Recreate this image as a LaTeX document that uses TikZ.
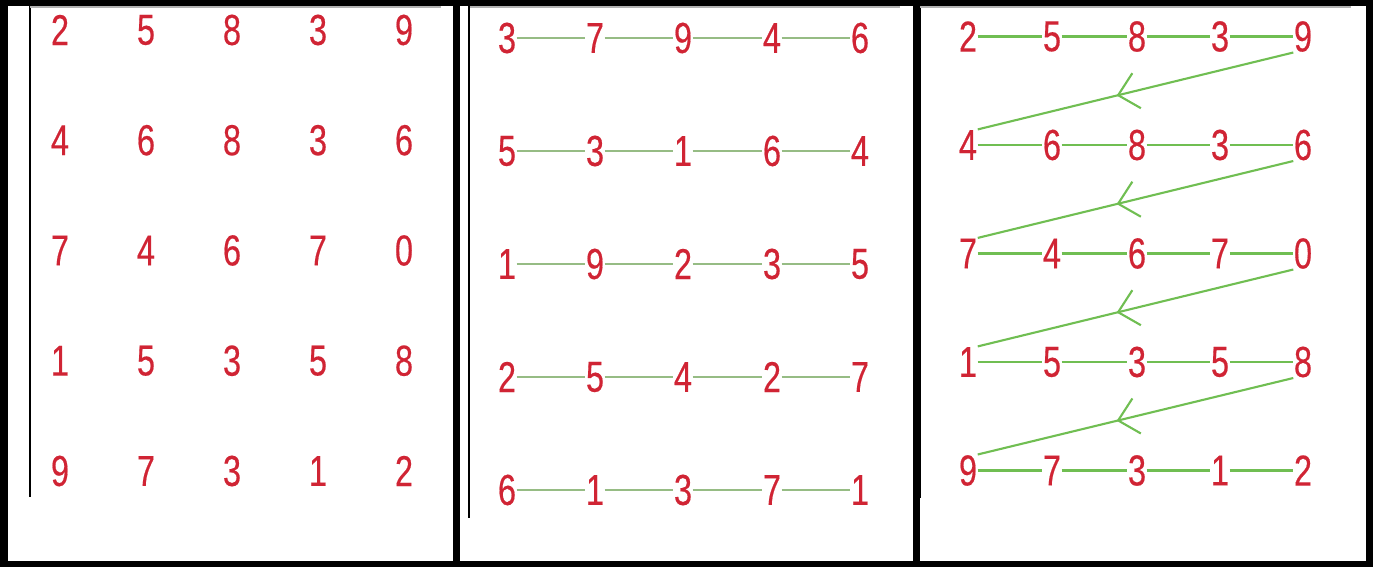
\documentclass[tikz,border=0pt]{standalone}
\usepackage{fontspec}
\newfontfamily\digitfont[FakeStretch=0.75, FakeBold=0.4]{Liberation Sans}
\usetikzlibrary{arrows.meta, decorations.markings}
\definecolor{digitred}{RGB}{208,36,52}
\definecolor{rowgreen}{RGB}{150,188,132}
\definecolor{zaggreen}{RGB}{112,190,82}

\begin{document}
\begin{tikzpicture}[x=0.01cm, y=-0.01cm,
  digit/.style={inner sep=0pt, text=digitred, font=\digitfont\fontsize{12.3}{12.3}\selectfont},
  rowlink/.style={draw=rowgreen, line width=0.6pt},
  ziglink/.style={draw=zaggreen, line width=0.6pt},
  zagarrow/.style={ziglink, postaction={decorate}, decoration={markings,
      mark=at position 0.56 with {\arrow{Straight Barb[length=1.9mm, width=3.6mm]}}}},
  frame/.style={draw=black, line width=0.07cm},
  edge/.style={draw=black, line width=0.45pt}
]
  \useasboundingbox (0,0) rectangle (1373,567);

  % Frames of the three panels
  \draw[frame] (4,3) rectangle (1369,564);
  \draw[frame] (456.5,3) -- (456.5,564);
  \draw[frame] (916,3) -- (916,564);

  % Edges of the pasted pictures
  \draw[edge] (30,6) -- (30,497);
  \draw[edge] (469,6) -- (469,518);
  \draw[edge] (920,6) -- (920,498);
  \draw[draw=gray!60, line width=0.4pt] (30,7) -- (441,7);
  \draw[draw=gray!60, line width=0.4pt] (470,7) -- (900,7);
  \draw[draw=gray!60, line width=0.4pt] (920,7) -- (1351,7);

  % Panel 1: the matrix
  \foreach \a/\b/\c/\d/\e [count=\r] in {2/5/8/3/9, 4/6/8/3/6, 7/4/6/7/0, 1/5/3/5/8, 9/7/3/1/2} {
    \pgfmathsetmacro{\y}{30+(\r-1)*110.25}
    \node[digit] (a\r-1) at (60,\y) {\a};
    \node[digit] (a\r-2) at (146,\y) {\b};
    \node[digit] (a\r-3) at (232,\y) {\c};
    \node[digit] (a\r-4) at (318,\y) {\d};
    \node[digit] (a\r-5) at (404,\y) {\e};
  }

  % Panel 2: rows as lists
  \foreach \a/\b/\c/\d/\e [count=\r] in {3/7/9/4/6, 5/3/1/6/4, 1/9/2/3/5, 2/5/4/2/7, 6/1/3/7/1} {
    \pgfmathsetmacro{\y}{38+(\r-1)*113}
    \node[digit] (b\r-1) at (507,\y) {\a};
    \node[digit] (b\r-2) at (595,\y) {\b};
    \node[digit] (b\r-3) at (683,\y) {\c};
    \node[digit] (b\r-4) at (772,\y) {\d};
    \node[digit] (b\r-5) at (860,\y) {\e};
  }

  % Panel 3: row by row
  \foreach \a/\b/\c/\d/\e [count=\r] in {2/5/8/3/9, 4/6/8/3/6, 7/4/6/7/0, 1/5/3/5/8, 9/7/3/1/2} {
    \pgfmathsetmacro{\y}{36.5+(\r-1)*108.5}
    \node[digit] (c\r-1) at (968,\y) {\a};
    \node[digit] (c\r-2) at (1052,\y) {\b};
    \node[digit] (c\r-3) at (1137,\y) {\c};
    \node[digit] (c\r-4) at (1220,\y) {\d};
    \node[digit] (c\r-5) at (1303,\y) {\e};
  }

  % Links along the rows
  \foreach \row in {1,...,5} {
    \foreach \col/\nxt in {1/2, 2/3, 3/4, 4/5} {
      \draw[rowlink] (b\row-\col) -- (b\row-\nxt);
      \draw[ziglink] (c\row-\col) -- (c\row-\nxt);
    }
  }

  % Links from row end to next row start
  \foreach \row/\nxt in {1/2, 2/3, 3/4, 4/5} {
    \draw[zagarrow] (c\row-5.south west) -- (c\nxt-1.north east);
  }

\end{tikzpicture}
\end{document}
